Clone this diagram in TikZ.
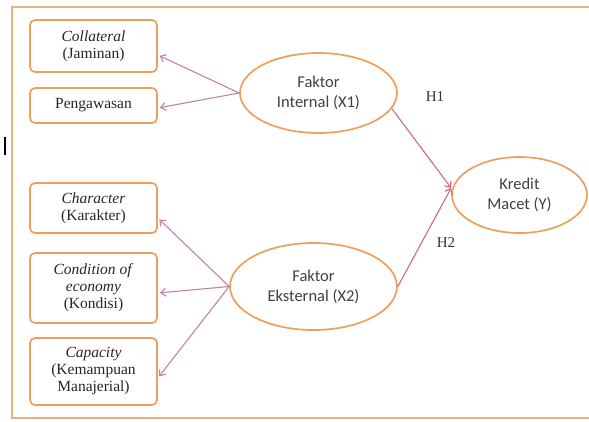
\documentclass[tikz,border=0pt]{standalone}
\usepackage{fontspec}
\setmainfont{Liberation Serif}
\newfontfamily\calib{Carlito}
\usepackage{tikz}
\usetikzlibrary{arrows.meta,positioning,shapes.geometric}
\usepackage{xcolor}
\definecolor{boxorange}{RGB}{236,160,92}
\definecolor{frameorange}{RGB}{232,176,128}
\definecolor{arrowmauve}{RGB}{190,130,175}
\definecolor{arrowred}{RGB}{205,105,130}

\begin{document}
\begin{tikzpicture}[x=1pt, y=-1pt,
  factor/.style={draw=boxorange, line width=1.7pt, rounded corners=5pt, minimum width=127pt, align=center, inner sep=1pt, text=black!85, font=\fontsize{15.5}{17}\selectfont},
  latent/.style={draw=boxorange, line width=1.7pt, ellipse, inner sep=0pt, align=center, text=black!75, font=\calib\fontsize{16.5}{20}\selectfont},
  link/.style={draw=arrowmauve, line width=1.1pt, -{Straight Barb[length=5pt,width=8pt]}, shorten >=2pt},
  hypo/.style={draw=arrowred, line width=1.1pt, -{Straight Barb[length=5pt,width=8pt]}},
  hlabel/.style={font=\fontsize{15}{17}\selectfont, text=black!80}
]
\useasboundingbox (0,0) rectangle (589,421);
\draw[frameorange, line width=2.4pt] (589,7) -- (12,7) -- (12,418) -- (589,418);
\draw[black, line width=2.8pt] (5,137) -- (5,155);

\node[factor, minimum height=52pt] (coll) at (93.5,46) {\textit{Collateral}\\(Jaminan)};
\node[factor, minimum height=35pt] (peng) at (93.5,105.5) {Pengawasan};
\node[factor, minimum height=50pt] (char) at (93.5,208) {\textit{Character}\\(Karakter)};
\node[factor, minimum height=70pt] (cond) at (93.5,288) {\textit{Condition of}\\\textit{economy}\\(Kondisi)};
\node[factor, minimum height=67pt] (capa) at (93.5,371.5) {\textit{Capacity}\\(Kemampuan\\Manajerial)};

\node[latent, minimum width=157pt, minimum height=80pt] (intern) at (318.5,93) {Faktor\\Internal (X1)};
\node[latent, minimum width=167pt, minimum height=87pt] (ekstern) at (313.5,286.5) {Faktor\\Eksternal (X2)};
\node[latent, minimum width=135pt, minimum height=76pt] (kredit) at (519.5,195) {Kredit\\Macet (Y)};

\draw[link] (intern.west) -- ([yshift=-9pt]coll.east);
\draw[link] (intern.west) -- ([yshift=-2.5pt]peng.east);
\draw[link] (ekstern.west) -- ([yshift=-10pt]char.east);
\draw[link] (ekstern.west) -- ([yshift=-5pt]cond.east);
\draw[link] (ekstern.west) -- ([yshift=-6.5pt]capa.east);

\draw[hypo] (intern.-12) -- ([yshift=7pt]kredit.west);
\draw[hypo] (ekstern.east) -- ([yshift=7pt]kredit.west);

\node[hlabel] (h1) at (435,97) {H1};
\node[hlabel] (h2) at (446,243) {H2};
\end{tikzpicture}
\end{document}
